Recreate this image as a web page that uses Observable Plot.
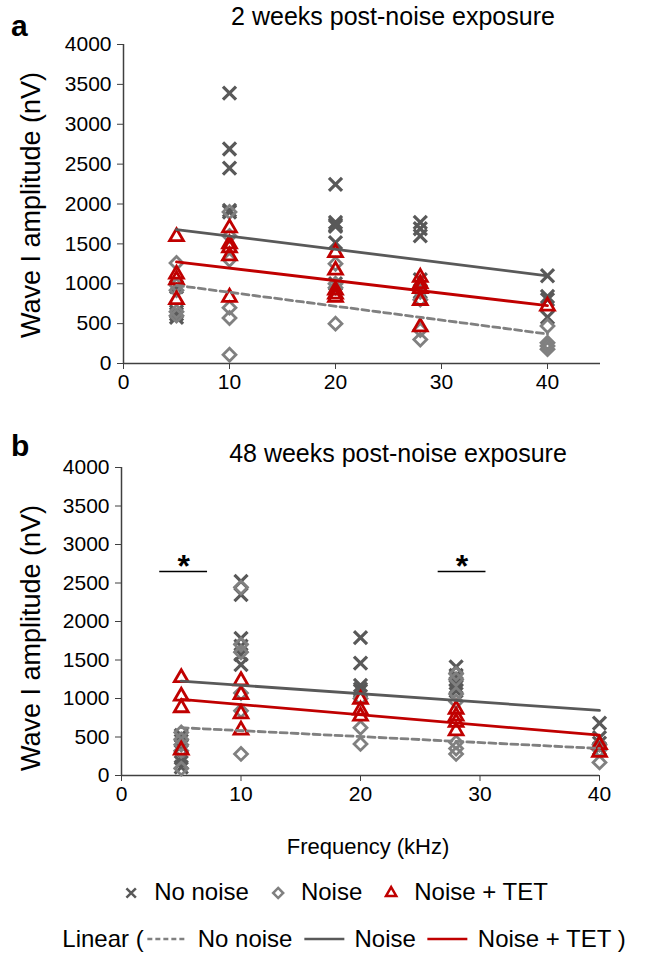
<!DOCTYPE html>
<html>
<head>
<meta charset="utf-8">
<script src="https://cdn.jsdelivr.net/npm/d3@7"></script>
<script src="https://cdn.jsdelivr.net/npm/@observablehq/plot@0.6"></script>
<style>
  html, body { margin: 0; padding: 0; background: #fff; }
  #wrap { position: relative; width: 652px; height: 954px; background: #fff; font-family: "Liberation Sans", Arial, Helvetica, sans-serif; color: #000; overflow: hidden; }
  .abs { position: absolute; white-space: nowrap; }
  .letter { font-weight: bold; font-size: 30px; }
  .title { font-size: 25px; transform: translateX(-50%); }
  .ylab { font-size: 27px; transform: translate(-50%, -50%) rotate(-90deg); }
  .xlab { font-size: 22px; transform: translateX(-50%); }
  .legend { font-size: 24px; transform: translateX(-50%); display: flex; align-items: center; }
  .legend svg { display: block; }
</style>
</head>
<body>
<div id="wrap">
  <div class="abs letter" style="left:11px; top:9px;">a</div>
  <div class="abs title" style="left:393px; top:2px;">2 weeks post-noise exposure</div>
  <div class="abs ylab" style="left:31px; top:205px;">Wave I amplitude (nV)</div>

  <div class="abs letter" style="left:11px; top:429px;">b</div>
  <div class="abs title" style="left:398px; top:439px;">48 weeks post-noise exposure</div>
  <div class="abs ylab" style="left:31px; top:638px;">Wave I amplitude (nV)</div>

  <div class="abs xlab" style="left:368px; top:834px;">Frequency (kHz)</div>

  <div class="abs legend" id="leg1" style="left:334px; top:878px;"></div>
  <div class="abs legend" id="leg2" style="left:344px; top:925px;"></div>
</div>
<script>
// ---------- data ----------
const freqTicks = [0, 10, 20, 30, 40];
const ampTicks = [0, 500, 1000, 1500, 2000, 2500, 3000, 3500, 4000];

// Panel a: 2 weeks post-noise exposure  [frequency kHz, amplitude nV]
const a_noNoise = [[5,580],[5,620],[5,650],[5,960],[10,3390],[10,2690],[10,2450],[10,1920],[10,1900],
  [20,2245],[20,1770],[20,1740],[20,1720],[20,1515],[20,1000],[28,1770],[28,1690],[28,1600],[28,1050],[28,900],
  [40,1100],[40,840],[40,800],[40,580]];
const a_noise = [[5,1260],[5,980],[5,920],[5,650],[5,600],[10,1900],[10,1600],[10,1300],[10,700],[10,570],[10,110],
  [20,1250],[20,1000],[20,950],[20,500],[28,900],[28,800],[28,420],[28,300],[40,470],[40,260],[40,220],[40,180]];
const a_tet = [[5,1590],[5,1120],[5,1050],[5,800],[10,1700],[10,1500],[10,1450],[10,1350],[10,830],
  [20,1390],[20,1170],[20,920],[20,870],[20,830],[28,1080],[28,1000],[28,940],[28,790],[28,460],[40,720]];
const a_fitSolid = [[5,1680],[40,1100]];
const a_fitDashed = [[5,980],[40,370]];
const a_fitRed = [[5,1275],[40,725]];

// Panel b: 48 weeks post-noise exposure
const b_noNoise = [[5,520],[5,450],[5,380],[5,230],[5,170],[5,110],[10,2520],[10,2350],[10,1780],[10,1680],[10,1570],[10,1440],
  [20,1790],[20,1460],[20,1170],[20,1120],[20,1100],[28,1410],[28,1300],[28,1250],[28,1200],[28,1150],[28,1100],
  [40,680],[40,490],[40,420],[40,350]];
const b_noise = [[5,560],[5,470],[5,400],[5,320],[5,90],[10,2440],[10,1700],[10,1600],[10,1070],[10,840],[10,280],
  [20,1000],[20,620],[20,410],[28,1320],[28,1250],[28,1060],[28,960],[28,430],[28,350],[28,280],[40,400],[40,330],[40,170]];
const b_tet = [[5,1270],[5,1030],[5,880],[5,330],[10,1230],[10,1050],[10,800],[10,590],[20,990],[20,850],[20,770],
  [28,860],[28,770],[28,690],[28,580],[40,400],[40,300]];
const b_fitSolid = [[5,1225],[40,845]];
const b_fitDashed = [[5,621],[40,351]];
const b_fitRed = [[5,988],[40,523]];
const b_sigBars = [[3.2,7.2,2650],[26.5,30.5,2650]];
const b_sigStars = [[5.2,2800,"*"],[28.5,2800,"*"]];

// ---------- styles ----------
const C_X = "#595959", C_D = "#808080", C_T = "#c00000";

function panel(o) {
  return Plot.plot({
    width: 652, height: o.height,
    marginLeft: o.ml, marginRight: o.mr, marginTop: o.mt, marginBottom: o.mb,
    style: { fontFamily: '"Liberation Sans", Arial, sans-serif', fontSize: "21px", color: "#000", background: "transparent", overflow: "visible" },
    x: { domain: o.xdomain },
    y: { domain: [0, 4000] },
    marks: [
      Plot.axisX({ ticks: freqTicks, tickSize: 6, tickPadding: 5, tickFormat: d => String(d), label: null, stroke: "#404040", fontSize: 21 }),
      Plot.axisY({ ticks: ampTicks, tickSize: 6, tickPadding: 6, tickFormat: d => String(d), label: null, stroke: "#404040", fontSize: 21 }),
      Plot.ruleY([0], { stroke: "#404040", strokeWidth: 1.5 }),
      Plot.ruleX([0], { stroke: "#404040", strokeWidth: 1.5 }),
      Plot.dot(o.noNoise, { x: d => d[0], y: d => d[1], symbol: "times", r: 6, stroke: C_X, strokeWidth: 3.2 }),
      Plot.dot(o.noise, { x: d => d[0], y: d => d[1], symbol: "diamond2", r: 5.8, stroke: C_D, strokeWidth: 2.8, fill: "none" }),
      Plot.dot(o.tet, { x: d => d[0], y: d => d[1], symbol: "triangle2", r: 6.6, stroke: C_T, strokeWidth: 2.8, fill: "none" }),
      Plot.line(o.fitDashed, { x: d => d[0], y: d => d[1], stroke: C_D, strokeWidth: 2.8, strokeDasharray: "7,4" }),
      Plot.line(o.fitSolid, { x: d => d[0], y: d => d[1], stroke: C_X, strokeWidth: 2.8 }),
      Plot.line(o.fitRed, { x: d => d[0], y: d => d[1], stroke: C_T, strokeWidth: 2.8 }),
      ...(o.sigBars ? [
        Plot.ruleY(o.sigBars, { x1: d => d[0], x2: d => d[1], y: d => d[2], stroke: "#000", strokeWidth: 1.5 }),
        Plot.text(o.sigStars, { x: d => d[0], y: d => d[1], text: d => d[2], fontSize: 32, fontWeight: "bold", fill: "#000", dy: 7 })
      ] : [])
    ]
  });
}

const wrap = document.getElementById("wrap");

const pa = panel({ height: 400, ml: 123, mr: 52, mt: 44, mb: 37, xdomain: [0, 45],
  noNoise: a_noNoise, noise: a_noise, tet: a_tet, fitSolid: a_fitSolid, fitDashed: a_fitDashed, fitRed: a_fitRed });
pa.style.position = "absolute"; pa.style.left = "0px"; pa.style.top = "0px";
wrap.appendChild(pa);

const pb = panel({ height: 390, ml: 121, mr: 53, mt: 47, mb: 35, xdomain: [0, 40],
  noNoise: b_noNoise, noise: b_noise, tet: b_tet, fitSolid: b_fitSolid, fitDashed: b_fitDashed, fitRed: b_fitRed,
  sigBars: b_sigBars, sigStars: b_sigStars });
pb.style.position = "absolute"; pb.style.left = "0px"; pb.style.top = "420px";
wrap.appendChild(pb);

// ---------- legends ----------
const ns = "http://www.w3.org/2000/svg";
function icon(w, h, build) {
  const s = document.createElementNS(ns, "svg");
  s.setAttribute("width", w); s.setAttribute("height", h);
  s.setAttribute("viewBox", `0 0 ${w} ${h}`);
  build(s);
  return s;
}
function path(s, d, attrs) {
  const p = document.createElementNS(ns, "path");
  p.setAttribute("d", d);
  for (const k in attrs) p.setAttribute(k, attrs[k]);
  s.appendChild(p);
}
function span(text, ml, mr) {
  const e = document.createElement("span");
  e.textContent = text;
  e.style.marginLeft = ml + "px"; e.style.marginRight = mr + "px";
  return e;
}
const legendMarkers = [
  { label: "No noise", sym: d3.symbolTimes, color: C_X, size: 60 },
  { label: "Noise", sym: d3.symbolDiamond2, color: C_D, size: 64 },
  { label: "Noise + TET", sym: d3.symbolTriangle2, color: C_T, size: 75 }
];
const leg1 = document.getElementById("leg1");
legendMarkers.forEach((m, i) => {
  leg1.appendChild(icon(22, 22, s => path(s, d3.symbol(m.sym, m.size)(), { transform: "translate(11,12)", fill: "none", stroke: m.color, "stroke-width": 2.5 })));
  leg1.appendChild(span(m.label, 12, i < 2 ? 18 : 0));
});
const legendLines = [
  { label: "No noise", color: C_D, dash: "5,3" },
  { label: "Noise", color: C_X, dash: null },
  { label: "Noise + TET", color: C_T, dash: null }
];
const leg2 = document.getElementById("leg2");
leg2.appendChild(span("Linear (", 0, 2));
legendLines.forEach((m, i) => {
  leg2.appendChild(icon(44, 12, s => path(s, "M2,6H42", Object.assign({ stroke: m.color, "stroke-width": 2.5, fill: "none" }, m.dash ? { "stroke-dasharray": m.dash } : {}))));
  leg2.appendChild(span(m.label + (i === 2 ? " )" : ""), 8, i < 2 ? 10 : 0));
});
</script>
</body>
</html>
